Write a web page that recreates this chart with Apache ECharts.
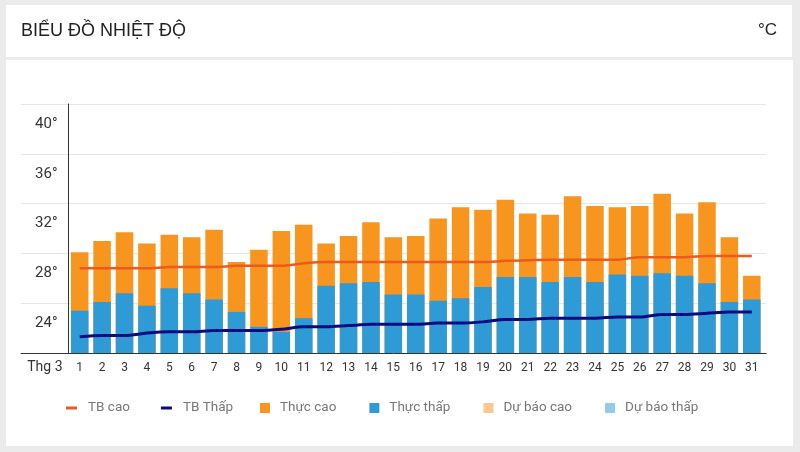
<!DOCTYPE html>
<html>
<head>
<meta charset="utf-8">
<script src="https://cdn.jsdelivr.net/npm/echarts@6/dist/echarts.min.js"></script>
<style>
  html, body { margin: 0; padding: 0; background: #ebebeb; }
  #chart { width: 800px; height: 452px; }
</style>
</head>
<body>
<div id="chart"></div>
<script>
const days = ['1','2','3','4','5','6','7','8','9','10','11','12','13','14','15','16','17','18','19','20','21','22','23','24','25','26','27','28','29','30','31'];
const thucCao = [28.1,29.0,29.7,28.8,29.5,29.3,29.9,27.3,28.3,29.8,30.3,28.8,29.4,30.5,29.3,29.4,30.8,31.7,31.5,32.3,31.2,31.1,32.6,31.8,31.7,31.8,32.8,31.2,32.1,29.3,26.2];
const thucThap = [23.4,24.1,24.8,23.8,25.2,24.8,24.3,23.3,22.1,21.7,22.8,25.4,25.6,25.7,24.7,24.7,24.2,24.4,25.3,26.1,26.1,25.7,26.1,25.7,26.3,26.2,26.4,26.2,25.6,24.1,24.3];
const tbCao = [26.8,26.8,26.8,26.8,26.9,26.9,26.9,27.0,27.0,27.0,27.2,27.3,27.3,27.3,27.3,27.3,27.3,27.3,27.3,27.4,27.45,27.5,27.5,27.5,27.5,27.7,27.7,27.7,27.8,27.8,27.8];
const tbThap = [21.3,21.4,21.4,21.6,21.7,21.7,21.8,21.8,21.8,21.9,22.1,22.1,22.2,22.3,22.3,22.3,22.4,22.4,22.5,22.7,22.7,22.8,22.8,22.8,22.9,22.9,23.1,23.1,23.2,23.3,23.3];
const duBaoCao = [];
const duBaoThap = [];
const yTicks = { min: 20, max: 40, step: 4 };
const monthLabel = 'Thg 3';
const titleText = 'BIỂU ĐỒ NHIỆT ĐỘ';
const unitText = '°C';

const FONT = 'Roboto, "Liberation Sans", sans-serif';
const TITLE_FONT = '"Liberation Sans", Arial, sans-serif';
const chart = echarts.init(document.getElementById('chart'));
const barW = 17.5;

chart.setOption({
  animation: false,
  backgroundColor: 'transparent',
  textStyle: { fontFamily: FONT },
  graphic: [
    { type: 'rect', z: -10, shape: { x: 6, y: 5, width: 786, height: 52 }, style: { fill: '#ffffff' } },
    { type: 'rect', z: -10, shape: { x: 6, y: 60, width: 787, height: 386 }, style: { fill: '#ffffff' } }
  ],
  title: [
    { text: titleText, left: 21, top: 22, padding: 0, textStyle: { fontSize: 18, fontWeight: 'normal', color: '#222', fontFamily: TITLE_FONT } },
    { text: unitText, right: 23, top: 22, padding: 0, textStyle: { fontSize: 17, fontWeight: 'normal', color: '#222', fontFamily: TITLE_FONT } }
  ],
  legend: [
    {
      data: ['TB cao', 'TB Thấp'],
      left: 66, top: 401, padding: 0,
      icon: 'rect', itemWidth: 11, itemHeight: 3, itemGap: 31,
      textStyle: { fontSize: 13.5, color: '#777', padding: [0, 0, 0, 6], fontFamily: FONT },
      selectedMode: false
    },
    {
      data: ['Thực cao', 'Thực thấp', 'Dự báo cao', 'Dự báo thấp'],
      left: 260, top: 401, padding: 0,
      icon: 'rect', itemWidth: 10, itemHeight: 10, itemGap: 33,
      textStyle: { fontSize: 13.5, color: '#777', padding: [0, 0, 0, 5], fontFamily: FONT },
      selectedMode: false
    }
  ],
  grid: [
    { left: 68.5, right: 37, top: 104, bottom: 99 },
    { left: 21, right: 34, top: 104, bottom: 99 }
  ],
  xAxis: [
    {
      type: 'category', gridIndex: 0, data: days,
      axisLine: { show: false }, axisTick: { show: false },
      axisLabel: { fontSize: 12, color: '#333', margin: 9, interval: 0 },
      name: monthLabel, nameLocation: 'start', nameGap: 6,
      nameTextStyle: { fontSize: 14, color: '#333', align: 'right', verticalAlign: 'top', lineHeight: 14, padding: [7, 0, 0, 0] }
    },
    {
      type: 'value', gridIndex: 1, min: 0, max: 1, z: 10,
      axisLine: { show: true, lineStyle: { color: '#333', width: 1 } },
      axisTick: { show: false }, axisLabel: { show: false }, splitLine: { show: false }
    }
  ],
  yAxis: [
    {
      type: 'value', gridIndex: 0, min: yTicks.min, max: yTicks.max, interval: yTicks.step, z: 10,
      axisLine: { show: true, lineStyle: { color: '#333', width: 1 } },
      axisTick: { show: false }, splitLine: { show: false },
      axisLabel: {
        formatter: '{value}°', showMinLabel: false, fontSize: 15, color: '#333', margin: 11,
        verticalAlign: 'top', lineHeight: 16, padding: [12, 0, 0, 0]
      }
    },
    {
      type: 'value', gridIndex: 1, min: yTicks.min, max: yTicks.max, interval: yTicks.step,
      axisLine: { show: false }, axisTick: { show: false }, axisLabel: { show: false },
      splitLine: { show: true, lineStyle: { color: '#e6e6e6', width: 1 } }
    }
  ],
  series: [
    { name: 'Thực cao', type: 'bar', data: thucCao, barWidth: barW, barGap: '-100%', itemStyle: { color: '#f7951f' }, z: 2 },
    { name: 'Thực thấp', type: 'bar', data: thucThap, barWidth: barW, barGap: '-100%', itemStyle: { color: '#2e9bd7' }, z: 3 },
    { name: 'Dự báo cao', type: 'bar', data: duBaoCao, barWidth: barW, barGap: '-100%', itemStyle: { color: '#fbc891' } },
    { name: 'Dự báo thấp', type: 'bar', data: duBaoThap, barWidth: barW, barGap: '-100%', itemStyle: { color: '#93cdeb' } },
    { name: 'TB cao', type: 'line', data: tbCao, smooth: 0.3, showSymbol: false, z: 5,
      lineStyle: { color: '#ec5a1c', width: 2.5 }, itemStyle: { color: '#ec5a1c' } },
    { name: 'TB Thấp', type: 'line', data: tbThap, smooth: 0.3, showSymbol: false, z: 5,
      lineStyle: { color: '#0b0b80', width: 3 }, itemStyle: { color: '#0b0b80' } }
  ]
});
</script>
</body>
</html>
